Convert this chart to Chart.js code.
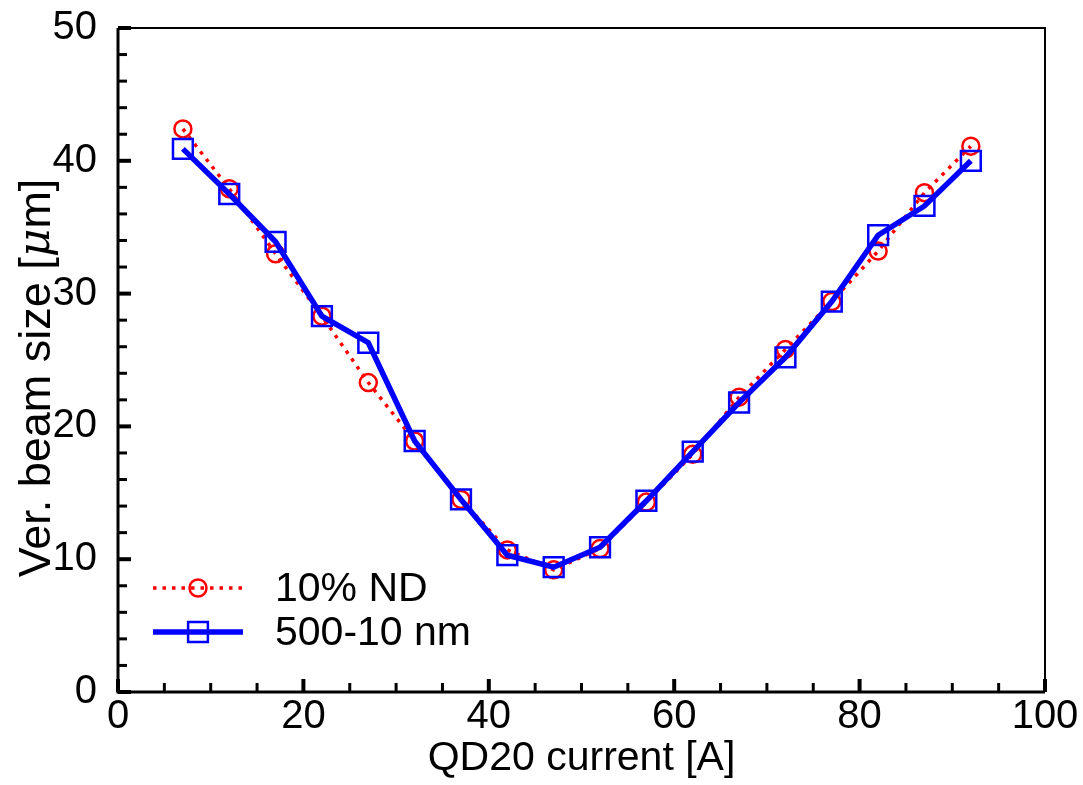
<!DOCTYPE html>
<html>
<head>
<meta charset="utf-8">
<script src="https://cdn.jsdelivr.net/npm/chart.js@4.4.1/dist/chart.umd.min.js"></script>
<style>
  body { margin: 0; background: #fff; }
  #wrap { width: 1083px; height: 785px; }
</style>
</head>
<body>
<div id="wrap"><canvas id="beamChart" width="1083" height="785"></canvas></div>
<script>
// QD20 current [A]
const current = [7, 12, 17, 22, 27, 32, 37, 42, 47, 52, 57, 62, 67, 72, 77, 82, 87, 92];
// Ver. beam size [um]
const nd10 = [42.4, 37.9, 33.0, 28.3, 23.3, 18.9, 14.5, 10.7, 9.2, 10.8, 14.3, 17.9, 22.2, 25.8, 29.4, 33.2, 37.6, 41.1];
const nm500 = [40.9, 37.5, 33.9, 28.3, 26.3, 18.9, 14.5, 10.3, 9.4, 10.9, 14.4, 18.1, 21.8, 25.2, 29.4, 34.4, 36.6, 40.0];
const xTicks = [0, 20, 40, 60, 80, 100];
const yTicks = [0, 10, 20, 30, 40, 50];

const FONT = '"Liberation Sans", Arial, Helvetica, sans-serif';
const RED = '#ff0000';
const BLUE = '#0000ff';

function pts(ys) {
    return current.map((x, i) => ({ x: x, y: ys[i] }));
}

// frame, inward ticks, legend and y title
const decorations = {
    id: 'decorations',
    afterDraw(chart) {
        const ctx = chart.ctx;
        const a = chart.chartArea;
        const xs = chart.scales.x;
        const ys = chart.scales.y;
        ctx.save();
        ctx.strokeStyle = '#000';

        // thin top/right
        ctx.lineWidth = 2;
        ctx.beginPath();
        ctx.moveTo(a.left, a.top); ctx.lineTo(a.right, a.top); ctx.lineTo(a.right, a.bottom);
        ctx.stroke();
        // thick left/bottom
        ctx.lineWidth = 3;
        ctx.beginPath();
        ctx.moveTo(a.left, a.top); ctx.lineTo(a.left, a.bottom); ctx.lineTo(a.right, a.bottom);
        ctx.stroke();

        // x ticks
        for (let v = 0; v <= 100; v += 5) {
            const major = v % 20 === 0;
            const px = xs.getPixelForValue(v);
            ctx.lineWidth = major ? 4 : 3;
            ctx.beginPath();
            ctx.moveTo(px, a.bottom);
            ctx.lineTo(px, a.bottom - (major ? 13 : 9));
            ctx.stroke();
        }
        // y ticks
        for (let v = 0; v <= 50; v += 2) {
            const major = v % 10 === 0;
            const py = ys.getPixelForValue(v);
            ctx.lineWidth = major ? 4 : 3;
            ctx.beginPath();
            ctx.moveTo(a.left, py);
            ctx.lineTo(a.left + (major ? 13 : 9), py);
            ctx.stroke();
        }

        // legend
        const lx0 = 153, lx1 = 243, lmx = 198, tx = 275;
        const rows = [588, 632];
        chart.data.datasets.forEach((d, i) => {
            const y = rows[i];
            ctx.strokeStyle = d.borderColor;
            ctx.lineWidth = d.borderWidth;
            ctx.setLineDash(d.borderDash || []);
            ctx.beginPath();
            ctx.moveTo(lx0, y); ctx.lineTo(lx1, y);
            ctx.stroke();
            ctx.setLineDash([]);
            ctx.fillStyle = 'rgba(0,0,0,0)';
            ctx.strokeStyle = d.pointBorderColor;
            ctx.lineWidth = d.pointBorderWidth;
            Chart.helpers.drawPoint(ctx, {
                pointStyle: d.pointStyle,
                radius: d.pointRadius,
                borderWidth: d.pointBorderWidth,
                rotation: 0
            }, lmx, y);
            ctx.fillStyle = '#000';
            ctx.font = '41px ' + FONT;
            ctx.textBaseline = 'middle';
            ctx.textAlign = 'left';
            ctx.fillText(d.label, tx, y + 2);
        });

        // y title with italic mu
        ctx.translate(38, 378);
        ctx.rotate(-Math.PI / 2);
        ctx.fillStyle = '#000';
        ctx.textBaseline = 'middle';
        const parts = [
            { t: 'Ver. beam size [', f: '45px ' + FONT },
            { t: '\u03bc', f: 'italic 44px "DejaVu Serif", serif' },
            { t: 'm]', f: '45px ' + FONT }
        ];
        let total = 0;
        parts.forEach(p => { ctx.font = p.f; p.w = ctx.measureText(p.t).width; total += p.w; });
        let cx = -total / 2;
        ctx.textAlign = 'left';
        parts.forEach(p => { ctx.font = p.f; ctx.fillText(p.t, cx, 0); cx += p.w; });
        ctx.restore();
    }
};

const ctx = document.getElementById('beamChart').getContext('2d');
const chart = new Chart(ctx, {
    type: 'line',
    data: {
        datasets: [{
            label: '10% ND',
            data: pts(nd10),
            borderColor: RED,
            borderWidth: 3.5,
            borderDash: [3.5, 6],
            pointStyle: 'circle',
            pointRadius: 8.5,
            pointBorderWidth: 2.5,
            pointBorderColor: RED,
            pointBackgroundColor: 'rgba(0,0,0,0)',
            tension: 0,
            order: 1
        }, {
            label: '500-10 nm',
            data: pts(nm500),
            borderColor: BLUE,
            borderWidth: 5.5,
            pointStyle: 'rect',
            pointRadius: 14,
            pointBorderWidth: 2.5,
            pointBorderColor: BLUE,
            pointBackgroundColor: 'rgba(0,0,0,0)',
            tension: 0,
            order: 0
        }]
    },
    options: {
        responsive: false,
        animation: false,
        devicePixelRatio: 1,
        layout: { padding: { top: 28, right: 38, left: 0, bottom: 0 } },
        plugins: { legend: { display: false }, tooltip: { enabled: false } },
        scales: {
            x: {
                type: 'linear',
                min: 0, max: 100,
                afterBuildTicks: s => { s.ticks = xTicks.map(v => ({ value: v })); },
                afterFit: s => { s.height = 93; s.paddingLeft = 0; s.paddingRight = 0; },
                grid: { display: false },
                border: { display: false },
                ticks: { color: '#000', padding: -7, font: { family: FONT, size: 40 }, maxRotation: 0 },
                title: {
                    display: true,
                    text: 'QD20 current [A]',
                    color: '#000',
                    font: { family: FONT, size: 41 },
                    padding: { top: 0, bottom: 2 }
                }
            },
            y: {
                min: 0, max: 50,
                afterBuildTicks: s => { s.ticks = yTicks.map(v => ({ value: v })); },
                afterFit: s => { s.width = 118; s.paddingTop = 0; s.paddingBottom = 0; },
                grid: { display: false },
                border: { display: false },
                ticks: { color: '#000', padding: 13, font: { family: FONT, size: 40 } }
            }
        }
    },
    plugins: [decorations]
});
</script>
</body>
</html>
